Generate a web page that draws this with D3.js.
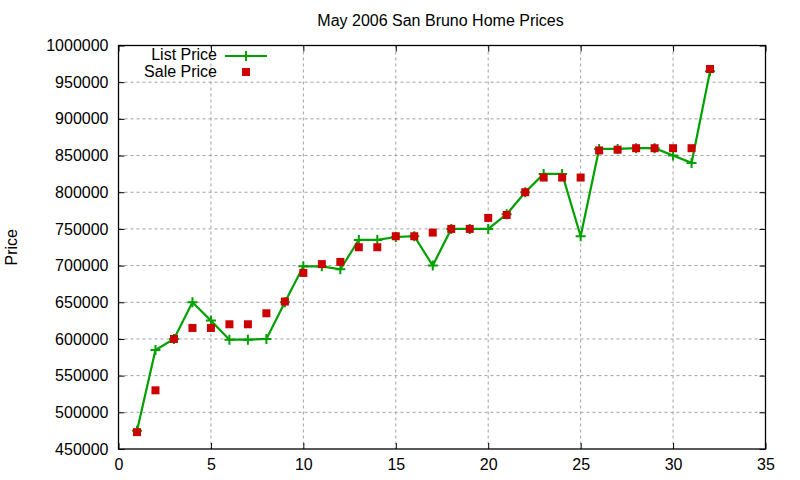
<!DOCTYPE html>
<html>
<head>
<meta charset="utf-8">
<script src="https://cdn.jsdelivr.net/npm/d3@7"></script>
<style>
  body { margin: 0; background: #fff; }
  text { font-family: "Liberation Sans", Arial, sans-serif; fill: #000; }
</style>
</head>
<body>
<div></div>
<script>
// house number (x), list price, sale price
const houses = d3.range(1, 33);
const listPrices = [475000, 585000, 600000, 650000, 625000, 599000, 599000, 600000,
  650000, 699000, 699000, 695000, 735000, 735000, 739000, 740000,
  700000, 750000, 750000, 750000, 770000, 800000, 825000, 825000,
  740000, 859000, 859000, 860000, 860000, 850000, 840000, 965000];
const salePrices = [473000, 530000, 600000, 615000, 615000, 620000, 620000, 635000,
  651000, 690000, 702000, 705000, 725000, 725000, 740000, 740000,
  745000, 750000, 750000, 765000, 769000, 800000, 820000, 820000,
  820000, 857000, 858000, 860000, 860000, 860000, 860000, 968000];
const xTicks = [0, 5, 10, 15, 20, 25, 30, 35];
const yTicks = [450000, 500000, 550000, 600000, 650000, 700000, 750000, 800000, 850000, 900000, 950000, 1000000];

const W = 800, H = 480;
const pLeft = 118.5, pRight = 765.5, pTop = 45.5, pBottom = 449;
const fs = "16px";

const svg = d3.select("div").append("svg").attr("width", W).attr("height", H);

const x = d3.scaleLinear().domain([0, 35]).range([pLeft, pRight]);
const y = d3.scaleLinear().domain([450000, 1000000]).range([pBottom, pTop]);

// grid
const grid = svg.append("g");
grid.selectAll("line.gx").data(xTicks.slice(1, -1)).enter().append("line")
  .attr("x1", d => x(d)).attr("x2", d => x(d))
  .attr("y1", pTop).attr("y2", pBottom)
  .attr("stroke", "#a0a0a0").attr("stroke-dasharray", "3,3");
grid.selectAll("line.gy").data(yTicks.slice(1, -1)).enter().append("line")
  .attr("y1", d => y(d)).attr("y2", d => y(d))
  .attr("x1", pLeft).attr("x2", pRight)
  .attr("stroke", "#a0a0a0").attr("stroke-dasharray", "3,3");

// axes, ticks pointing inward on all sides
const tick = 6;
svg.append("g").attr("transform", `translate(0,${pBottom})`)
  .call(d3.axisBottom(x).tickValues(xTicks).tickSizeInner(-tick).tickSizeOuter(0).tickPadding(10))
  .call(g => g.select(".domain").remove());
svg.append("g").attr("transform", `translate(0,${pTop})`)
  .call(d3.axisTop(x).tickValues(xTicks).tickSizeInner(-tick).tickSizeOuter(0).tickFormat(""))
  .call(g => g.select(".domain").remove());
svg.append("g").attr("transform", `translate(${pLeft},0)`)
  .call(d3.axisLeft(y).tickValues(yTicks).tickSizeInner(-tick).tickSizeOuter(0).tickPadding(10).tickFormat(d3.format("d")))
  .call(g => g.select(".domain").remove());
svg.append("g").attr("transform", `translate(${pRight},0)`)
  .call(d3.axisRight(y).tickValues(yTicks).tickSizeInner(-tick).tickSizeOuter(0).tickFormat(""))
  .call(g => g.select(".domain").remove());
svg.selectAll(".tick line").attr("stroke", "#000");
svg.selectAll(".tick text").style("font-size", fs).attr("font-family", null);

svg.append("rect")
  .attr("x", pLeft).attr("y", pTop)
  .attr("width", pRight - pLeft).attr("height", pBottom - pTop)
  .attr("fill", "none").attr("stroke", "#000").attr("stroke-width", 1.3);

// list price line + plus markers
const green = "#00a000", red = "#cc0000";
const listData = houses.map((h, i) => ({ x: h, v: listPrices[i] }));
const saleData = houses.map((h, i) => ({ x: h, v: salePrices[i] }));

svg.append("path").datum(listData)
  .attr("fill", "none").attr("stroke", green).attr("stroke-width", 2.2)
  .attr("d", d3.line().x(d => x(d.x)).y(d => y(d.v)));

const plus = 5;
svg.append("g").selectAll("path").data(listData).enter().append("path")
  .attr("d", d => `M${x(d.x) - plus},${y(d.v)}h${2 * plus}M${x(d.x)},${y(d.v) - plus}v${2 * plus}`)
  .attr("stroke", green).attr("stroke-width", 2);

svg.append("g").selectAll("rect").data(saleData).enter().append("rect")
  .attr("x", d => x(d.x) - 4).attr("y", d => y(d.v) - 4)
  .attr("width", 8).attr("height", 8)
  .attr("fill", red);

// legend
const legend = svg.append("g").style("font-size", fs);
legend.append("text").attr("x", 217).attr("y", 60).attr("text-anchor", "end").text("List Price");
legend.append("line").attr("x1", 225).attr("x2", 267).attr("y1", 56).attr("y2", 56)
  .attr("stroke", green).attr("stroke-width", 2.2);
legend.append("path").attr("d", `M${246 - plus},56h${2 * plus}M246,${56 - plus}v${2 * plus}`)
  .attr("stroke", green).attr("stroke-width", 2);
legend.append("text").attr("x", 217).attr("y", 76.5).attr("text-anchor", "end").text("Sale Price");
legend.append("rect").attr("x", 242).attr("y", 68).attr("width", 8).attr("height", 8).attr("fill", red);

// title and y label
svg.append("text").attr("x", 440.5).attr("y", 26).attr("text-anchor", "middle")
  .style("font-size", fs).text("May 2006 San Bruno Home Prices");
svg.append("text")
  .attr("transform", `translate(17,${(pTop + pBottom) / 2}) rotate(-90)`)
  .attr("text-anchor", "middle").style("font-size", fs).text("Price");
</script>
</body>
</html>
